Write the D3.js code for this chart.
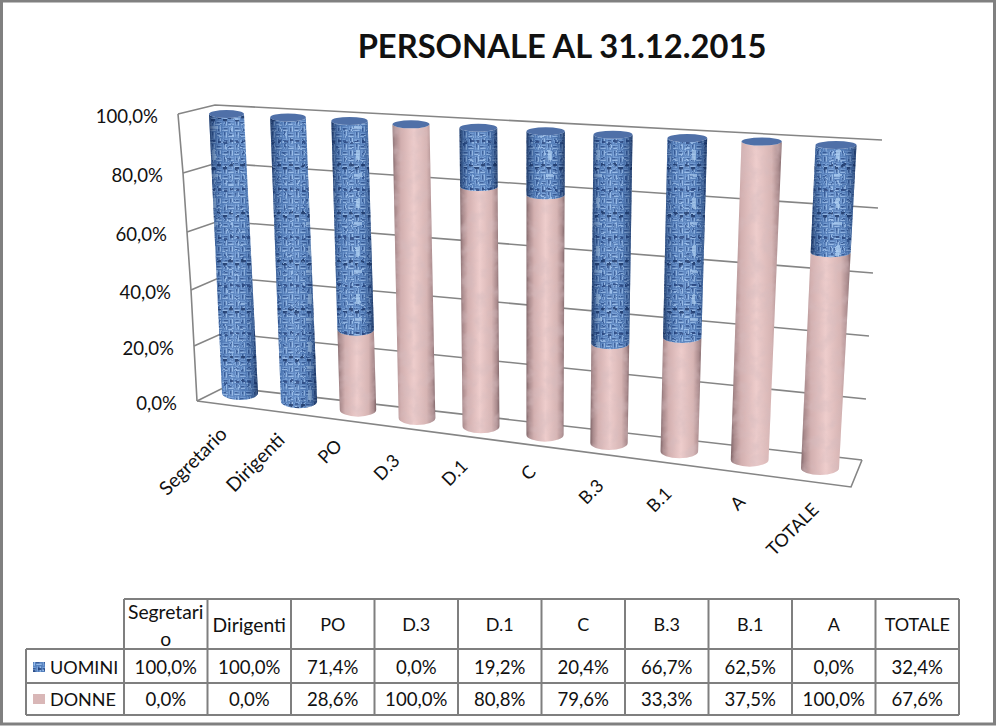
<!DOCTYPE html>
<html><head><meta charset="utf-8">
<script src="https://cdn.jsdelivr.net/npm/d3@7/dist/d3.min.js"></script>
<style>html,body{margin:0;padding:0;background:#fff}svg{display:block}text{font-family:Lato,"Open Sans",sans-serif;fill:#111}</style>
</head><body><svg id="c" width="996" height="726"></svg>
<script>
const titleText = "PERSONALE AL 31.12.2015";
const categories = ["Segretario","Dirigenti","PO","D.3","D.1","C","B.3","B.1","A","TOTALE"];
const uomini = [100,100,71.4,0,19.2,20.4,66.7,62.5,0,32.4];
const donne = [0,0,28.6,100,80.8,79.6,33.3,37.5,100,67.6];
const seriesNames = ["UOMINI","DONNE"];
const yTicks = [0,20,40,60,80,100];

const svg = d3.select("#c");
const locale = d3.formatLocale({decimal:",",thousands:".",grouping:[3],currency:["","€"]});
const pct = v => locale.format(".1f")(v)+"%";
const fontFor = t => /[a-z]/.test(t) ? 19.3 : /%/.test(t) ? 18.6 : 18;

// projected geometry as d3 scales
const idx = d3.range(10);
const wallFrontX = d3.scaleLinear().domain(yTicks).range([197,194,191,187,183,178]);
const wallFrontY = d3.scaleLinear().domain(yTicks).range([401,346,290,232,173,114]);
const wallBackX  = d3.scaleLinear().domain([0,100]).range([225,215]);
const wallBackY  = d3.scaleLinear().domain(yTicks).range([387,333,277,221,163,105]);
const wallRightX = d3.scaleLinear().domain(yTicks).range([862,866,869,873,878,882]);
const wallRightY = d3.scaleLinear().domain(yTicks).range([460,399,336,273,208,140]);
const knots = [0,3,6,9];
const botX = d3.scaleLinear().domain(knots).range([240,417,609,820]);
const topX = d3.scaleLinear().domain(knots).range([226.5,411,613,836]);
const botY = d3.scaleLinear().domain([0,9]).range([393,468]);
const topY = d3.scaleLinear().domain([0,9]).range([114,145]);
const botR = d3.scaleLinear().domain([0,9]).range([18,19]);
const topR = d3.scaleLinear().domain([0,9]).range([17.5,20.5]);
const rxToRy = d3.scaleLinear().domain([0,100]).range([7,4]);
const pos = d3.scaleLinear().domain(yTicks).range([0,.193,.389,.59,.795,1]);

const P = (i,v) => {
  const t = pos(v);
  return {x: botX(i)+(topX(i)-botX(i))*t, y: botY(i)+(topY(i)-botY(i))*t,
          r: botR(i)+(topR(i)-botR(i))*t, ry: rxToRy(v)};
};
function side(i,v0,v1){
  const a=P(i,v0), b=P(i,v1);
  return `M${a.x-a.r},${a.y}A${a.r},${a.ry} 0 0 0 ${a.x+a.r},${a.y}L${b.x+b.r},${b.y}A${b.r},${b.ry} 0 0 1 ${b.x-b.r},${b.y}Z`;
}

// defs
const defs = svg.append("defs");
const T=48, B=6;
const weave = defs.append("pattern").attr("id","weave").attr("patternUnits","userSpaceOnUse")
  .attr("width",T).attr("height",T);
weave.append("rect").attr("width",T).attr("height",T).attr("fill","#5480bd");
for(let by=0;by<T/B;by++)for(let bx=0;bx<T/B;bx++){
  const x=bx*B,y=by*B,h=(bx+by)%2===0;
  [.8,3.6].forEach((o,k)=>{
    const c = k===1?"#9dc2ee":"#76a0d8";
    if(h) weave.append("rect").attr("x",x+.3).attr("y",y+o).attr("width",B-.6).attr("height",1.3).attr("fill",c);
    else weave.append("rect").attr("x",x+o).attr("y",y+.3).attr("width",1.3).attr("height",B-.6).attr("fill",c);
  });
  if(h) weave.append("rect").attr("x",x+(bx%3)).attr("y",y+2.3).attr("width",3.5).attr("height",1).attr("fill","#2c4d8a");
  else weave.append("rect").attr("x",x+2.3).attr("y",y+(by%3)).attr("width",1).attr("height",3.5).attr("fill","#2c4d8a");
}
for(let k=0;k<8;k++){
  weave.append("rect").attr("x",k*6+1).attr("y",20+(k%2)*3).attr("width",4).attr("height",2.4).attr("fill","#1b3669").attr("opacity",.85);
  weave.append("rect").attr("x",k*6+2).attr("y",44+(k%3)).attr("width",3.4).attr("height",2).attr("fill","#22417a").attr("opacity",.8);
}
weave.append("rect").attr("x",20).attr("y",6).attr("width",4).attr("height",10).attr("fill","#b6d8fa").attr("opacity",.7);
weave.append("rect").attr("x",18).attr("y",30).attr("width",8).attr("height",3).attr("fill","#b6d8fa").attr("opacity",.65);

const rough = defs.append("filter").attr("id","rough").attr("filterUnits","userSpaceOnUse")
  .attr("x",0).attr("y",0).attr("width",996).attr("height",726);
rough.append("feTurbulence").attr("type","fractalNoise").attr("baseFrequency",.18).attr("numOctaves",2).attr("seed",7).attr("result","n");
rough.append("feDisplacementMap").attr("in","SourceGraphic").attr("in2","n").attr("scale",3).attr("xChannelSelector","R").attr("yChannelSelector","G");
rough.append("feGaussianBlur").attr("stdDeviation",.7);

const shadeB = defs.append("linearGradient").attr("id","shadeB");
[[0,"#0d1f44",.72],[.1,"#16305e",.42],[.25,"#1a3566",.1],[.5,"#fff",.06],[.75,"#1a3566",.1],[.9,"#16305e",.42],[1,"#0d1f44",.72]]
 .forEach(d=>shadeB.append("stop").attr("offset",d[0]).attr("stop-color",d[1]).attr("stop-opacity",d[2]));
const pink = defs.append("linearGradient").attr("id","pink");
[[0,"#7f6568"],[.07,"#a98a8c"],[.2,"#d2afaf"],[.5,"#eecdcc"],[.8,"#d6b4b3"],[.93,"#ab8c8e"],[1,"#7f6568"]]
 .forEach(d=>pink.append("stop").attr("offset",d[0]).attr("stop-color",d[1]));
const mott = defs.append("filter").attr("id","mott").attr("x",0).attr("y",0).attr("width","100%").attr("height","100%");
mott.append("feTurbulence").attr("type","fractalNoise").attr("baseFrequency",.08).attr("numOctaves",3).attr("seed",4);
mott.append("feColorMatrix").attr("values","0 0 0 0 .66  0 0 0 0 .5  0 0 0 0 .52  2.6 0 0 0 -1");
mott.append("feComposite").attr("in2","SourceAlpha").attr("operator","in");

const lineC = "#858585";
const gl = svg.append("g").attr("fill","none").attr("stroke",lineC).attr("stroke-width",1.6);
yTicks.forEach(v=>{
  gl.append("path").attr("d",d3.line()([[wallFrontX(v),wallFrontY(v)],[wallBackX(v),wallBackY(v)],[wallRightX(v),wallRightY(v)]]));
});
gl.append("path").attr("d",d3.line()(yTicks.map(v=>[wallFrontX(v),wallFrontY(v)])));
gl.append("path").attr("d",d3.line()([[wallFrontX(0),wallFrontY(0)],[851,487],[wallRightX(0),wallRightY(0)]]));

// cylinders
const stack = d3.stack().keys(["d","u"])(idx.map(i=>({d:donne[i],u:uomini[i]})));
const gc = svg.append("g");
idx.forEach(i=>{
  const [d0,d1]=stack[0][i], [u0,u1]=stack[1][i];
  if(d1>d0){
    gc.append("path").attr("d",side(i,d0,d1)).attr("fill","url(#pink)");
    gc.append("path").attr("d",side(i,d0,d1)).attr("fill","#000").attr("filter","url(#mott)").attr("opacity",.45);
  }
  if(u1>u0){
    const id="clip"+i;
    defs.append("clipPath").attr("id",id).append("path").attr("d",side(i,u0,u1));
    gc.append("g").attr("clip-path",`url(#${id})`).append("rect")
      .attr("x",P(i,50).x-40).attr("y",90).attr("width",80).attr("height",400)
      .attr("fill","url(#weave)").attr("filter","url(#rough)");
    gc.append("path").attr("d",side(i,u0,u1)).attr("fill","url(#shadeB)");
  }
  const t=P(i,u1);
  gc.append("ellipse").attr("cx",t.x).attr("cy",t.y).attr("rx",t.r).attr("ry",t.ry).attr("fill","#4f70a8");
});

// y labels
svg.append("g").selectAll("text").data(yTicks).join("text")
  .attr("x",v=>wallFrontX(v)-20).attr("y",v=>wallFrontY(v)+2)
  .attr("text-anchor","end").attr("dominant-baseline","central").attr("font-size",18.6).text(pct);

// category labels
const labX = d3.scaleLinear().domain([0,3,5,7,9]).range([223,396,532,668,815]);
const labY = d3.scaleLinear().domain([0,2,3,5,6,9]).range([430,442,457,468,482,506]);
svg.append("g").selectAll("text").data(categories).join("text")
  .attr("text-anchor","end").attr("dominant-baseline","central").attr("font-size",fontFor)
  .attr("transform",(d,i)=>`translate(${labX(i)},${labY(i)}) rotate(-45)`).text(d=>d);

// title
svg.append("text").attr("x",562).attr("y",58).attr("text-anchor","middle")
  .attr("font-size",32.7).attr("font-weight",700).attr("fill","#000").text(titleText);

// table
const colX = d3.scaleLinear().domain([0,10]).range([124,959]);
const rowY = [599,649,683,715];
const tb = svg.append("g").attr("stroke","#7f7f7f").attr("stroke-width",2).attr("fill","none");
tb.append("path").attr("d",d3.line()([[colX(0),rowY[0]],[colX(10),rowY[0]]]));
[1,2,3].forEach(r=>tb.append("path").attr("d",d3.line()([[26,rowY[r]],[colX(10),rowY[r]]])));
tb.append("path").attr("d",d3.line()([[26,rowY[1]],[26,rowY[3]]]));
d3.range(11).forEach(c=>tb.append("path").attr("d",d3.line()([[colX(c),rowY[0]],[colX(c),rowY[3]]])));
const cell=(t,x,y)=>svg.append("text").attr("x",x).attr("y",y).attr("text-anchor","middle")
  .attr("dominant-baseline","central").attr("font-size",fontFor(t)).text(t);
categories.forEach((c,i)=>{
  const cx=colX(i+.5);
  if(c==="Segretario"){cell("Segretari",cx,611);cell("o",cx,638);}
  else cell(c,cx,624);
  cell(pct(uomini[i]),cx,667);
  cell(pct(donne[i]),cx,699);
});
[0,1].forEach(k=>{
  const y=[667,699][k];
  svg.append("rect").attr("x",33).attr("y",y-5).attr("width",12).attr("height",10)
    .attr("fill",k?"#d9b7b7":"url(#weave)");
  svg.append("text").attr("x",50).attr("y",y).attr("dominant-baseline","central").attr("font-size",18).text(seriesNames[k]);
});
// frame
svg.append("rect").attr("x",1.5).attr("y",1).attr("width",993).attr("height",723)
  .attr("fill","none").attr("stroke","#808080").attr("stroke-width",3);
</script></body></html>
